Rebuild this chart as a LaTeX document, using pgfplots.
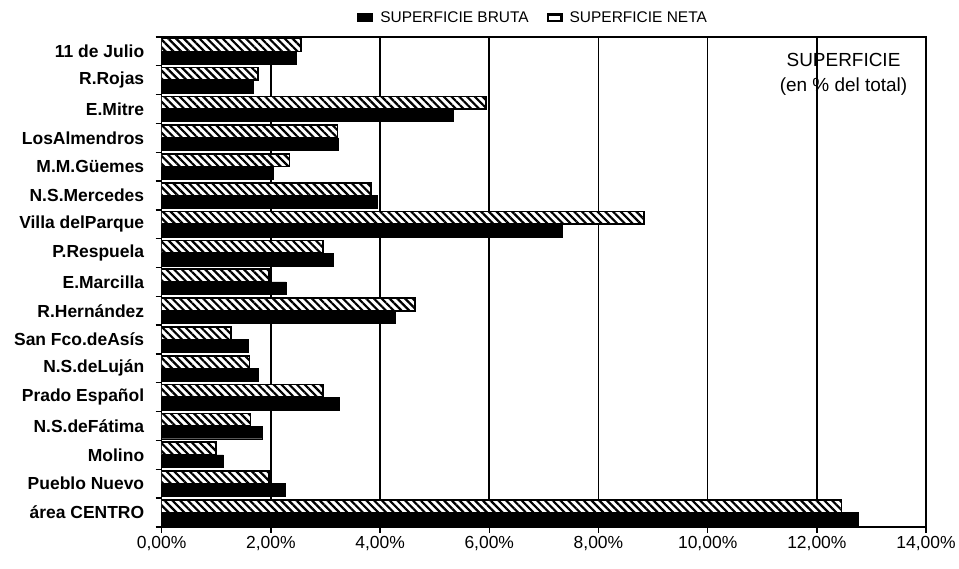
\documentclass[border=0pt]{standalone}
\usepackage{fontspec}
\setmainfont{Liberation Sans}
\usepackage{pgfplots}
\usepackage{pgfplotstable}
\pgfplotsset{compat=1.18}
\usetikzlibrary{patterns.meta}

% superficie en % del total, barrios de arriba hacia abajo
\pgfplotstableread{
idx bruta neta
0 2.46 2.55
1 1.68 1.76
2 5.34 5.94
3 3.24 3.22
4 2.05 2.34
5 3.95 3.83
6 7.34 8.83
7 3.15 2.95
8 2.28 1.97
9 4.27 4.64
10 1.58 1.27
11 1.76 1.61
12 3.25 2.95
13 1.84 1.63
14 1.13 1.00
15 2.27 1.97
16 12.75 12.45
}\datatable

\begin{document}
\begin{tikzpicture}
\begin{axis}[
  scale only axis, width=766bp, height=491bp,
  xbar,
  xmin=0, xmax=14, ymin=-0.5, ymax=16.5,
  y dir=reverse,
  xtick={0,2,...,14},
  xticklabels={{0,00\%},{2,00\%},{4,00\%},{6,00\%},{8,00\%},{10,00\%},{12,00\%},{14,00\%}},
  ytick={-0.5,0.5,...,16.5},
  y tick label as interval,
  yticklabels={11 de Julio, R.Rojas, E.Mitre, LosAlmendros, M.M.Güemes, N.S.Mercedes,
    Villa delParque, P.Respuela, E.Marcilla, R.Hernández, San Fco.deAsís, N.S.deLuján,
    Prado Español, N.S.deFátima, Molino, Pueblo Nuevo, área CENTRO},
  xtick pos=bottom, ytick pos=left,
  tick align=outside, major tick length=6bp,
  tick style={black, line width=1.4bp},
  axis line style={line width=1.6bp},
  xmajorgrids, major grid style={black, line width=1.6bp},
  xticklabel style={font=\fontsize{17.5bp}{20bp}\selectfont},
  yticklabel style={font=\fontsize{17.5bp}{20bp}\selectfont\bfseries, xshift=-8bp},
  legend columns=2,
  legend style={draw=none, at={(0.486,1)}, anchor=south, yshift=9bp,
    font=\fontsize{15.5bp}{18bp}\selectfont,
    /tikz/every odd column/.append style={column sep=5bp},
    /tikz/every even column/.append style={column sep=16bp}},
]
\addplot[forget plot, fill=black, draw=black, bar width=0.44, bar shift=0.22]
  table[x=bruta, y=idx] {\datatable};
\addplot[forget plot, fill=white, draw=black, line width=1.6bp, bar width=0.44, bar shift=-0.22,
  postaction={pattern={Lines[angle=-45,distance=5.5bp,line width=2.2bp]}}]
  table[x=neta, y=idx] {\datatable};
\addlegendimage{legend image code/.code={
  \fill[black, draw=none] (0bp,-4.5bp) rectangle (16bp,4.5bp);}}
\addlegendimage{legend image code/.code={
  \fill[black, draw=none] (0bp,-4.5bp) rectangle (16bp,4.5bp);
  \fill[white, draw=none] (2.5bp,-2bp) rectangle (13.5bp,2bp);}}
\legend{SUPERFICIE BRUTA, SUPERFICIE NETA}
\node[align=center, font=\fontsize{19bp}{25bp}\selectfont]
  at (axis description cs:0.892,0.923) {SUPERFICIE\\(en \% del total)};
\end{axis}
\path ([xshift=-162bp,yshift=-42bp]current axis.south west)
  rectangle ([xshift=31bp,yshift=37bp]current axis.north east);
\end{tikzpicture}
\end{document}
